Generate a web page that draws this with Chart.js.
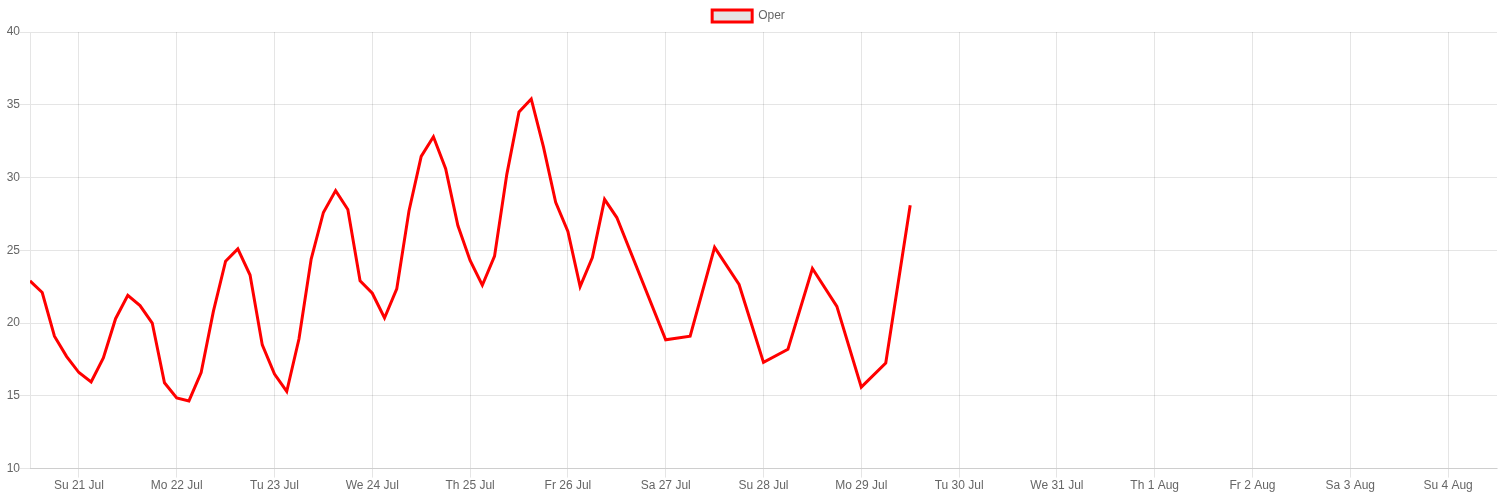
<!DOCTYPE html>
<html lang="en">
<head>
    <meta charset="UTF-8">
    <title>Oper</title>
    <script src="https://cdn.jsdelivr.net/npm/chart.js"></script>
    <style>
        body {
            margin: 0;
            padding: 0;
            background: #fff;
        }

        .chart-container {
            width: 1500px;
            height: 500px;
        }
    </style>
</head>
<body>
    <div class="chart-container">
        <canvas id="operChart"></canvas>
    </div>

    <script>
        // hours counted from Su 21 Jul 00:00
        const hours = [
            -12, -9, -6, -3, 0, 3, 6, 9, 12, 15, 18, 21,
            24, 27, 30, 33, 36, 39, 42, 45, 48, 51, 54, 57,
            60, 63, 66, 69, 72, 75, 78, 81, 84, 87, 90, 93,
            96, 99, 102, 105, 108, 111, 114, 117, 120, 123, 126, 129,
            132,
            144, 150, 156, 162, 168, 174, 180, 186, 192, 198, 204
        ];
        const operValues = [
            22.9, 22.1, 19.1, 17.7, 16.6, 15.95, 17.6, 20.3, 21.9, 21.2, 20.0, 15.9,
            14.85, 14.65, 16.6, 20.8, 24.25, 25.1, 23.3, 18.5, 16.5, 15.3, 18.9, 24.4,
            27.6, 29.1, 27.8, 22.9, 22.05, 20.35, 22.35, 27.7, 31.45, 32.8, 30.6, 26.7,
            24.3, 22.6, 24.6, 30.2, 34.5, 35.4, 32.1, 28.3, 26.3, 22.5, 24.5, 28.5,
            27.25,
            18.85, 19.1, 25.2, 22.65, 17.3, 18.2, 23.75, 21.15, 15.6, 17.25, 28.1
        ];
        const dayLabels = [
            'Su 21 Jul', 'Mo 22 Jul', 'Tu 23 Jul', 'We 24 Jul', 'Th 25 Jul',
            'Fr 26 Jul', 'Sa 27 Jul', 'Su 28 Jul', 'Mo 29 Jul', 'Tu 30 Jul',
            'We 31 Jul', 'Th 1 Aug', 'Fr 2 Aug', 'Sa 3 Aug', 'Su 4 Aug'
        ];
        const yTicks = [10, 15, 20, 25, 30, 35, 40];

        Chart.defaults.font.family = "'Liberation Sans', Arial, sans-serif";
        Chart.defaults.font.size = 12;
        Chart.defaults.color = '#666';

        const ctx = document.getElementById('operChart').getContext('2d');
        new Chart(ctx, {
            type: 'line',
            data: {
                datasets: [
                    {
                        label: 'Oper',
                        data: hours.map((h, i) => ({ x: h, y: operValues[i] })),
                        borderColor: '#ff0000',
                        backgroundColor: 'rgba(0, 0, 0, 0.1)',
                        borderWidth: 3,
                        pointRadius: 0,
                        tension: 0,
                        fill: false
                    }
                ]
            },
            options: {
                responsive: true,
                maintainAspectRatio: false,
                animation: false,
                layout: {
                    padding: { left: 0, right: 3, top: 0, bottom: 6 }
                },
                plugins: {
                    legend: {
                        labels: {
                            boxWidth: 40,
                            boxHeight: 12,
                            padding: 10
                        }
                    },
                    tooltip: { enabled: false }
                },
                scales: {
                    x: {
                        type: 'linear',
                        min: -12,
                        max: 348,
                        afterBuildTicks: axis => {
                            axis.ticks = dayLabels.map((_, i) => ({ value: i * 24 }));
                        },
                        ticks: {
                            maxRotation: 0,
                            autoSkip: false,
                            padding: 1,
                            callback: value => dayLabels[Math.round(value / 24)]
                        },
                        grid: {
                            color: 'rgba(0, 0, 0, 0.1)',
                            tickLength: 9
                        }
                    },
                    y: {
                        min: 10,
                        max: 40,
                        afterBuildTicks: axis => {
                            axis.ticks = yTicks.map(v => ({ value: v }));
                        },
                        afterFit: axis => {
                            axis.width = 30;
                        },
                        ticks: {
                            padding: 0
                        },
                        grid: {
                            color: 'rgba(0, 0, 0, 0.1)',
                            tickLength: 10
                        }
                    }
                }
            }
        });
    </script>
</body>
</html>
